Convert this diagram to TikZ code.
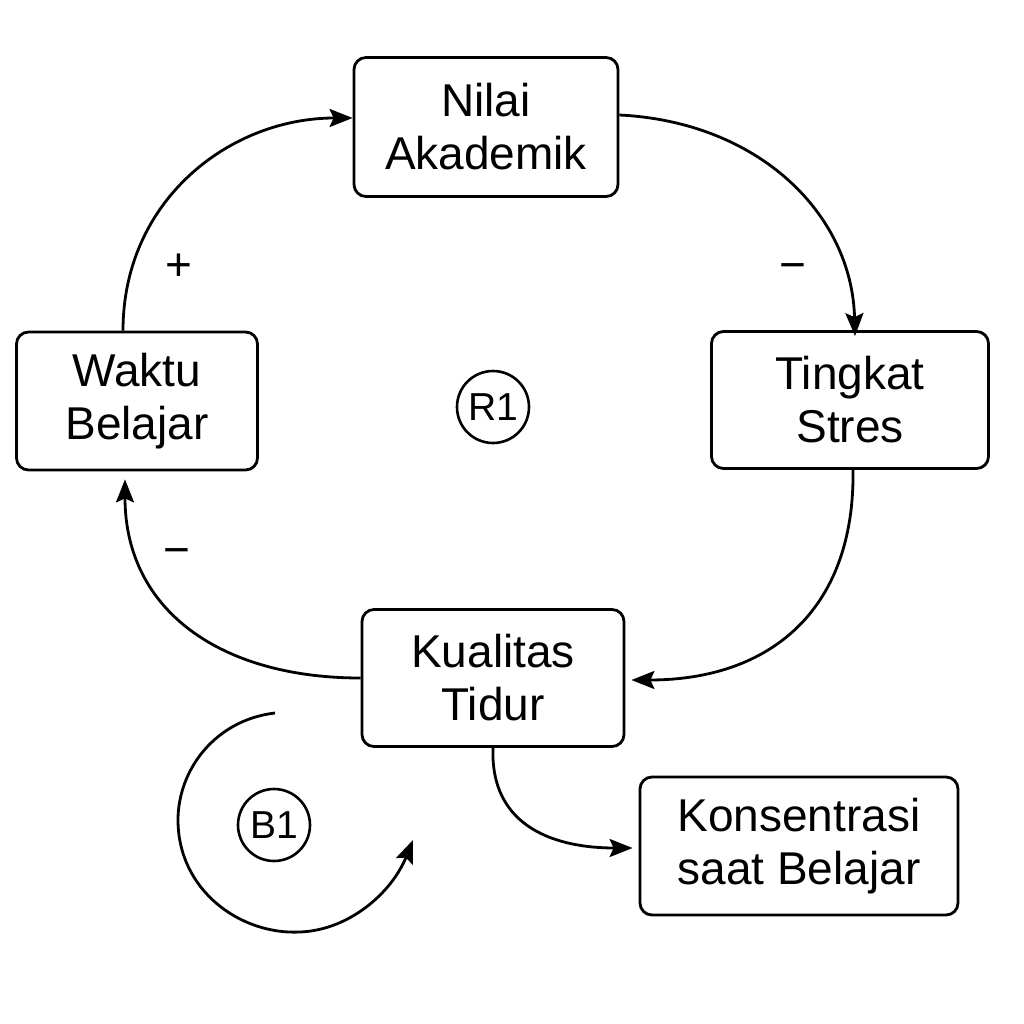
\documentclass[tikz,border=0pt]{standalone}
\usepackage{fontspec}
\setmainfont{Liberation Sans}
\usetikzlibrary{arrows.meta}
\begin{document}
\begin{tikzpicture}[x=1pt,y=-1pt,
  boxnode/.style={draw, line width=2.8pt, rounded corners=12pt, align=center,
    font=\fontsize{46}{53}\selectfont, inner sep=0pt},
  loopnode/.style={draw, circle, line width=2.6pt, minimum size=72pt, inner sep=0pt,
    font=\fontsize{39}{42}\selectfont},
  link/.style={line width=2.8pt, -{Stealth[length=23pt,width=18pt,inset=4pt]}},
  sign/.style={font=\fontsize{46}{50}\selectfont, inner sep=0pt}]
\useasboundingbox[fill=white] (0,0) rectangle (1024,1024);
\node[boxnode, minimum width=264pt, minimum height=139pt] (na) at (486,127) {Nilai\\Akademik};
\node[boxnode, minimum width=241pt, minimum height=138pt] (wb) at (137,401) {Waktu\\Belajar};
\node[boxnode, minimum width=277pt, minimum height=137pt] (ts) at (850,400) {Tingkat\\Stres};
\node[boxnode, minimum width=262pt, minimum height=137pt] (kt) at (493,678) {Kualitas\\Tidur};
\node[boxnode, minimum width=318pt, minimum height=138pt] (ks) at (799,846) {Konsentrasi\\saat Belajar};
\node[loopnode] (r1) at (493,407) {R1};
\node[loopnode] (b1) at (274,825) {B1};
\node[sign] (s1) at (179,267) {+};
\node[sign] (s2) at (793,272) {−};
\node[sign] (s3) at (177,557) {−};
\coordinate (b1s) at (275,713);
\coordinate (b1e) at (413,840);
\draw[link] ([xshift=-14pt]wb.north) .. controls (123,200) and (230,118) .. ([yshift=9pt]na.west);
\draw[link] ([yshift=12pt]na.east) .. controls (760,122) and (852,215) .. ([xshift=5pt,yshift=-6pt]ts.north);
\draw[link] ([xshift=3pt]ts.south) .. controls (855,610) and (770,680) .. ([xshift=6pt,yshift=-2pt]kt.east);
\draw[link] (kt.west) .. controls (220,678) and (125,610) .. ([xshift=-12pt,yshift=-8pt]wb.south);
\draw[link] (kt.south) .. controls (490,830) and (560,848) .. ([xshift=-6pt,yshift=-2pt]ks.west);
\draw[link] (b1s) .. controls (215,720) and (178,770) .. (178,820)
  .. controls (178,890) and (240,935) .. (300,932)
  .. controls (350,930) and (392,892) .. (b1e);
\end{tikzpicture}
\end{document}
